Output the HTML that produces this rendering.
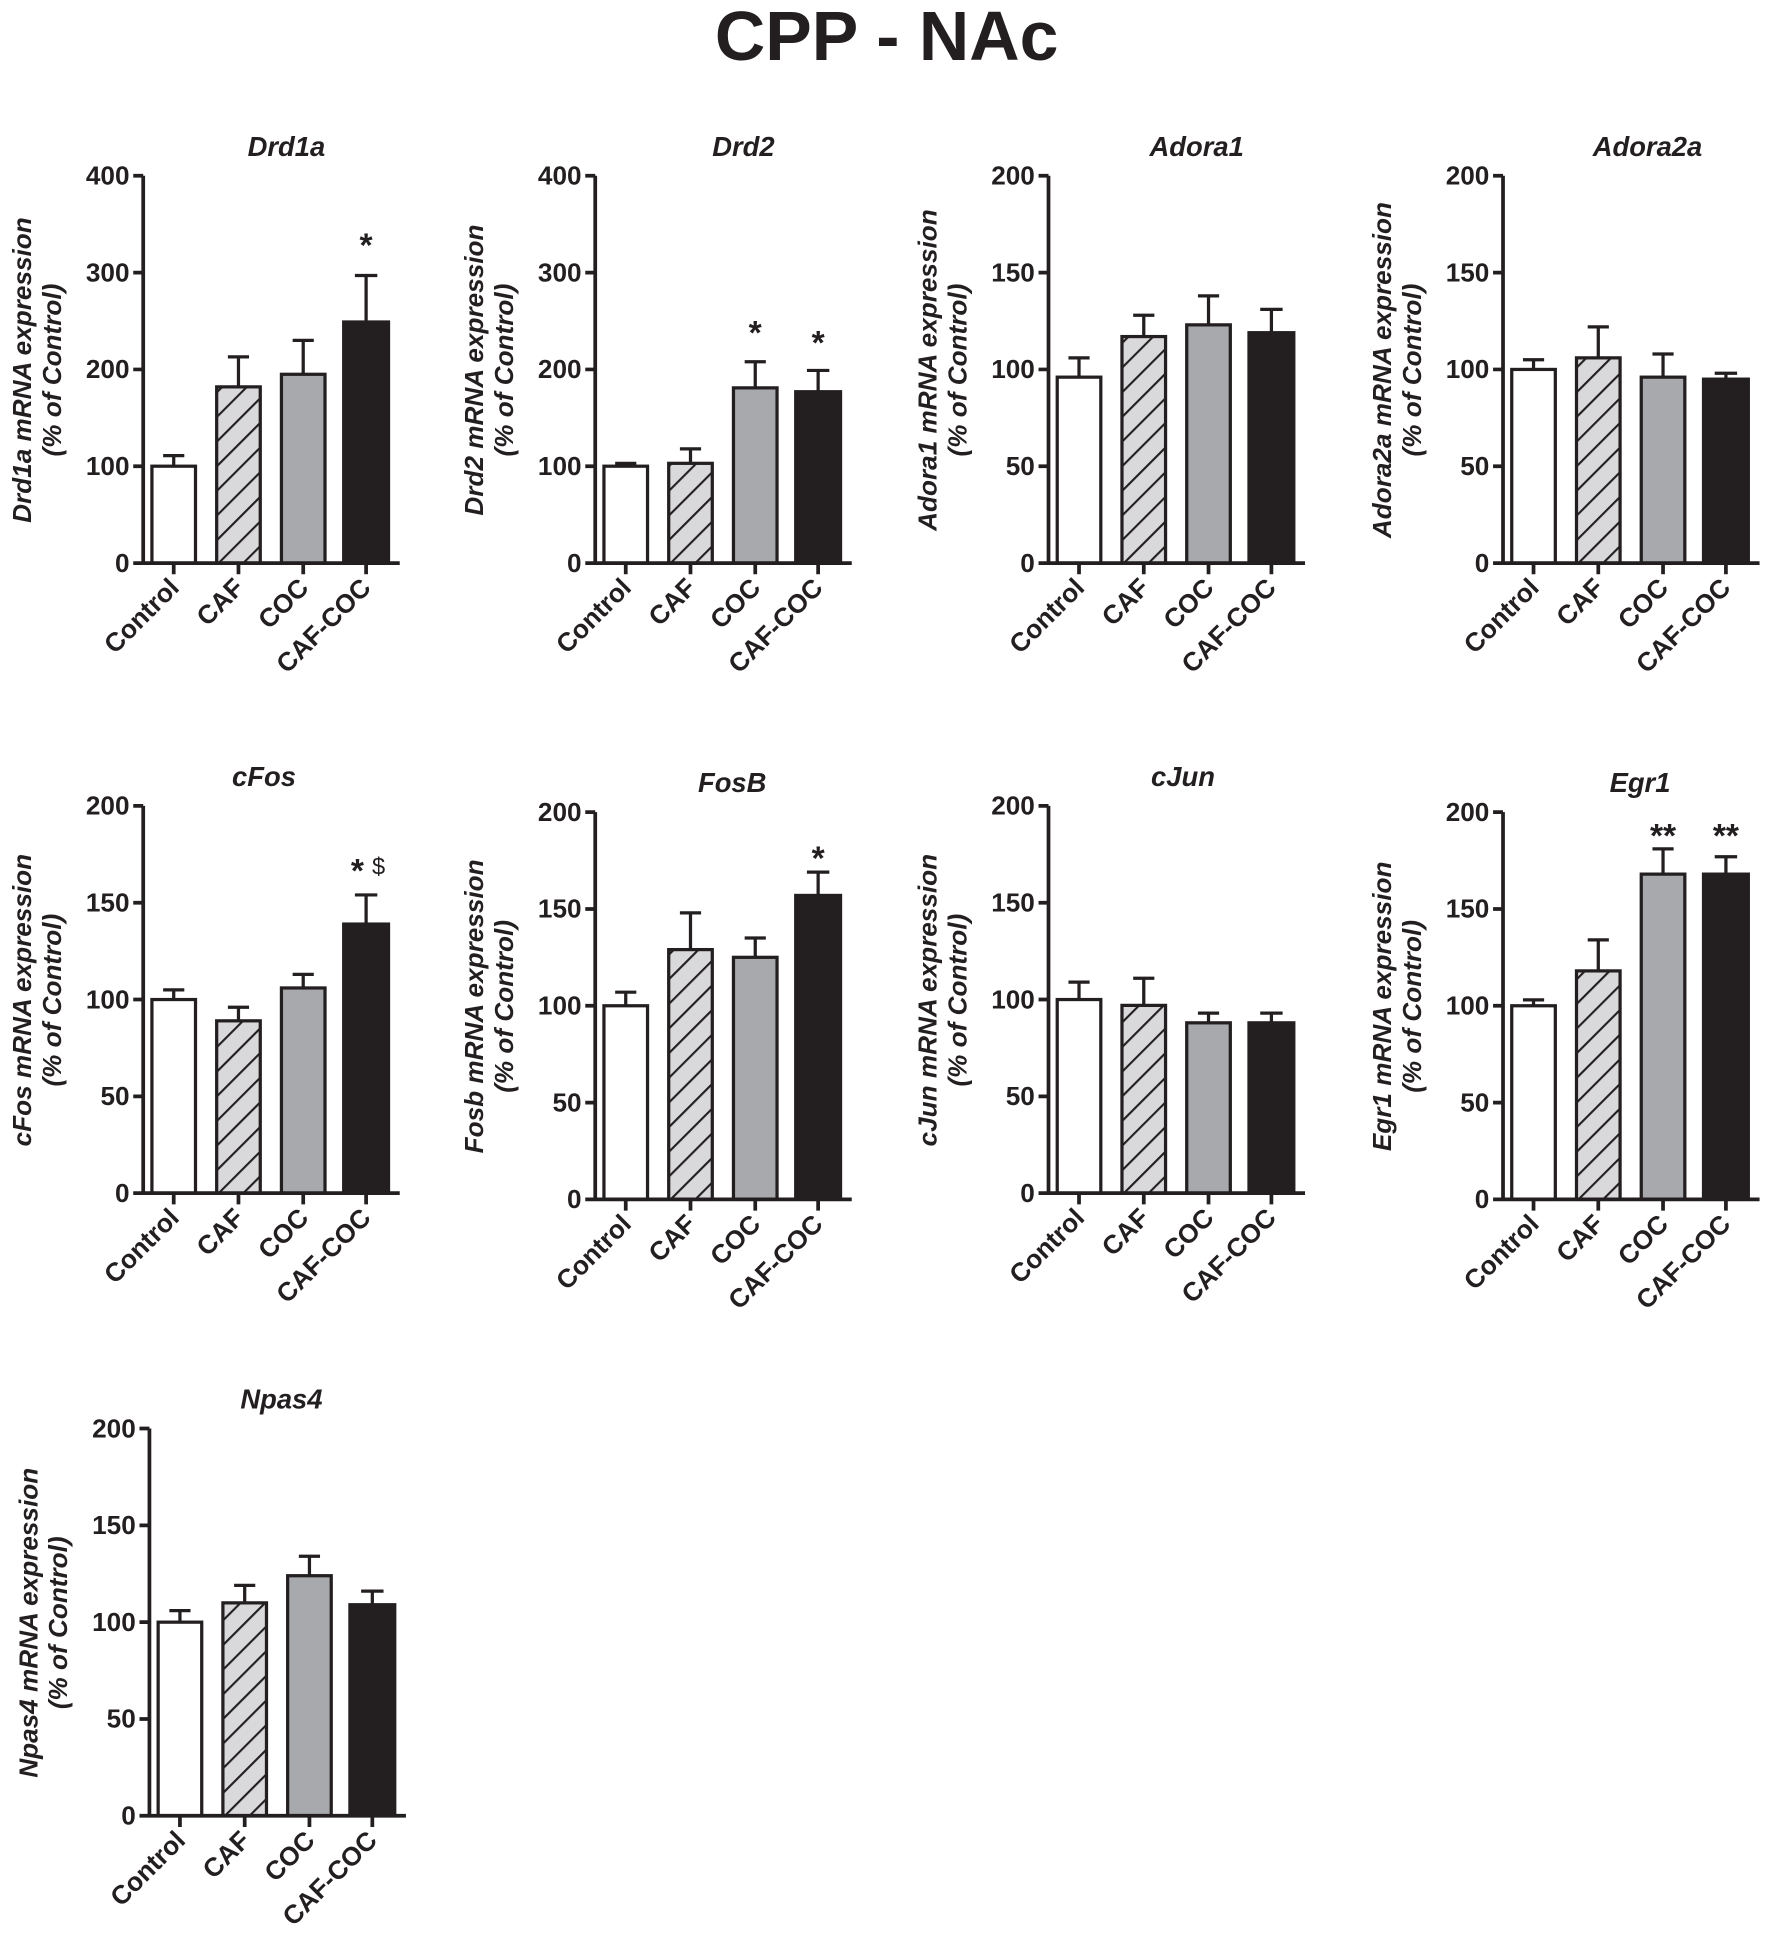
<!DOCTYPE html>
<html><head><meta charset="utf-8"><style>
html,body{margin:0;padding:0;background:#fff}
svg{display:block}
text{font-family:"Liberation Sans",Arial,sans-serif;font-weight:bold;fill:#231f20}
.t{font-size:21px}
.ti{font-size:22px;font-style:italic}
.yl{font-size:21px;font-style:italic}
.xl{font-size:21px}
.ax{stroke:#231f20;stroke-width:3;fill:none}
.b{stroke:#231f20;stroke-width:2.6}
.e{stroke:#231f20;stroke-width:2.6;fill:none}
.st{font-size:27px}
</style></head><body>
<svg width="1772" height="1953" viewBox="0 0 1423 1568" xmlns="http://www.w3.org/2000/svg">
<defs>
<pattern id="h" patternUnits="userSpaceOnUse" width="14" height="14" patternTransform="rotate(45)">
<rect width="14" height="14" fill="#d9d9db"/><line x1="0" y1="0" x2="0" y2="14" stroke="#231f20" stroke-width="3.4"/>
</pattern>
<g id="xaxis">
<path class="ax" d="M0,0V-311M-8,0H206M24.5,0v9M76.5,0v9M128.5,0v9M179,0v9"/>
<text class="xl" text-anchor="end" transform="translate(30,21) rotate(-45)">Control</text>
<text class="xl" text-anchor="end" transform="translate(82,21) rotate(-45)">CAF</text>
<text class="xl" text-anchor="end" transform="translate(134,21) rotate(-45)">COC</text>
<text class="xl" text-anchor="end" transform="translate(184,21) rotate(-45)">CAF-COC</text>
</g>
<g id="y400">
<path class="ax" d="M-8,-77.75H0M-8,-155.5H0M-8,-233.25H0M-8,-311H0"/>
<text class="t" text-anchor="end" x="-11" y="7">0</text>
<text class="t" text-anchor="end" x="-11" y="-70.75">100</text>
<text class="t" text-anchor="end" x="-11" y="-148.5">200</text>
<text class="t" text-anchor="end" x="-11" y="-226.25">300</text>
<text class="t" text-anchor="end" x="-11" y="-304">400</text>
</g>
<g id="y200">
<path class="ax" d="M-8,-77.75H0M-8,-155.5H0M-8,-233.25H0M-8,-311H0"/>
<text class="t" text-anchor="end" x="-11" y="7">0</text>
<text class="t" text-anchor="end" x="-11" y="-70.75">50</text>
<text class="t" text-anchor="end" x="-11" y="-148.5">100</text>
<text class="t" text-anchor="end" x="-11" y="-226.25">150</text>
<text class="t" text-anchor="end" x="-11" y="-304">200</text>
</g>
</defs>

<text x="712" y="48" text-anchor="middle" style="font-size:56px">CPP - NAc</text>

<!-- Drd1a -->
<g transform="translate(115,452)">
<text class="ti" x="115" y="-327" text-anchor="middle">Drd1a</text>
<text class="yl" text-anchor="middle" transform="translate(-90,-155) rotate(-90)">Drd1a mRNA expression</text>
<text class="yl" text-anchor="middle" transform="translate(-66,-155) rotate(-90)">(% of Control)</text>
<path class="e" d="M24.5,-77.8V-86.3M16,-86.3H33M76.5,-141.5V-165.6M68,-165.6H85M128.5,-151.6V-178.8M120,-178.8H137M179,-193.6V-230.9M170,-230.9H188"/>
<rect class="b" x="7" y="-77.8" width="35" height="77.8" fill="#fff"/>
<rect class="b" x="59" y="-141.5" width="35" height="141.5" fill="url(#h)"/>
<rect class="b" x="111" y="-151.6" width="35" height="151.6" fill="#a7a9ac"/>
<rect class="b" x="161" y="-193.6" width="36" height="193.6" fill="#231f20"/>
<text class="st" x="179" y="-246" text-anchor="middle">*</text>
<use href="#y400"/><use href="#xaxis"/>
</g>

<!-- Drd2 -->
<g transform="translate(478,452)">
<text class="ti" x="119" y="-327" text-anchor="middle">Drd2</text>
<text class="yl" text-anchor="middle" transform="translate(-90,-155) rotate(-90)">Drd2 mRNA expression</text>
<text class="yl" text-anchor="middle" transform="translate(-66,-155) rotate(-90)">(% of Control)</text>
<path class="e" d="M24.5,-77.8V-80.1M16,-80.1H33M76.5,-80.1V-91.7M68,-91.7H85M128.5,-140.7V-161.7M120,-161.7H137M179,-137.6V-154.7M170,-154.7H188"/>
<rect class="b" x="7" y="-77.8" width="35" height="77.8" fill="#fff"/>
<rect class="b" x="59" y="-80.1" width="35" height="80.1" fill="url(#h)"/>
<rect class="b" x="111" y="-140.7" width="35" height="140.7" fill="#a7a9ac"/>
<rect class="b" x="161" y="-137.6" width="36" height="137.6" fill="#231f20"/>
<text class="st" x="128.5" y="-176" text-anchor="middle">*</text>
<text class="st" x="179" y="-168" text-anchor="middle">*</text>
<use href="#y400"/><use href="#xaxis"/>
</g>

<!-- Adora1 -->
<g transform="translate(842,452)">
<text class="ti" x="119" y="-327" text-anchor="middle">Adora1</text>
<text class="yl" text-anchor="middle" transform="translate(-90,-155) rotate(-90)">Adora1 mRNA expression</text>
<text class="yl" text-anchor="middle" transform="translate(-66,-155) rotate(-90)">(% of Control)</text>
<path class="e" d="M24.5,-149.3V-164.8M16,-164.8H33M76.5,-181.9V-199M68,-199H85M128.5,-191.3V-214.6M120,-214.6H137M179,-185V-203.7M170,-203.7H188"/>
<rect class="b" x="7" y="-149.3" width="35" height="149.3" fill="#fff"/>
<rect class="b" x="59" y="-181.9" width="35" height="181.9" fill="url(#h)"/>
<rect class="b" x="111" y="-191.3" width="35" height="191.3" fill="#a7a9ac"/>
<rect class="b" x="161" y="-185" width="36" height="185" fill="#231f20"/>
<use href="#y200"/><use href="#xaxis"/>
</g>

<!-- Adora2a -->
<g transform="translate(1207,452)">
<text class="ti" x="116" y="-327" text-anchor="middle">Adora2a</text>
<text class="yl" text-anchor="middle" transform="translate(-90,-155) rotate(-90)">Adora2a mRNA expression</text>
<text class="yl" text-anchor="middle" transform="translate(-66,-155) rotate(-90)">(% of Control)</text>
<path class="e" d="M24.5,-155.5V-163.3M16,-163.3H33M76.5,-164.8V-189.7M68,-189.7H85M128.5,-149.3V-167.9M120,-167.9H137M179,-147.7V-152.4M170,-152.4H188"/>
<rect class="b" x="7" y="-155.5" width="35" height="155.5" fill="#fff"/>
<rect class="b" x="59" y="-164.8" width="35" height="164.8" fill="url(#h)"/>
<rect class="b" x="111" y="-149.3" width="35" height="149.3" fill="#a7a9ac"/>
<rect class="b" x="161" y="-147.7" width="36" height="147.7" fill="#231f20"/>
<use href="#y200"/><use href="#xaxis"/>
</g>

<!-- cFos -->
<g transform="translate(115,958)">
<text class="ti" x="97" y="-327" text-anchor="middle">cFos</text>
<text class="yl" text-anchor="middle" transform="translate(-90,-155) rotate(-90)">cFos mRNA expression</text>
<text class="yl" text-anchor="middle" transform="translate(-66,-155) rotate(-90)">(% of Control)</text>
<path class="e" d="M24.5,-155.5V-163.3M16,-163.3H33M76.5,-138.4V-149.3M68,-149.3H85M128.5,-164.8V-175.7M120,-175.7H137M179,-216.1V-239.5M170,-239.5H188"/>
<rect class="b" x="7" y="-155.5" width="35" height="155.5" fill="#fff"/>
<rect class="b" x="59" y="-138.4" width="35" height="138.4" fill="url(#h)"/>
<rect class="b" x="111" y="-164.8" width="35" height="164.8" fill="#a7a9ac"/>
<rect class="b" x="161" y="-216.1" width="36" height="216.1" fill="#231f20"/>
<text class="st" x="172" y="-250" text-anchor="middle">*</text>
<text x="189" y="-256" text-anchor="middle" style="font-size:19px;font-weight:normal">$</text>
<use href="#y200"/><use href="#xaxis"/>
</g>

<!-- FosB -->
<g transform="translate(478,963)">
<text class="ti" x="110" y="-327" text-anchor="middle">FosB</text>
<text class="yl" text-anchor="middle" transform="translate(-90,-155) rotate(-90)">Fosb mRNA expression</text>
<text class="yl" text-anchor="middle" transform="translate(-66,-155) rotate(-90)">(% of Control)</text>
<path class="e" d="M24.5,-155.5V-166.4M16,-166.4H33M76.5,-200.6V-230.1M68,-230.1H85M128.5,-194.4V-209.9M120,-209.9H137M179,-244.1V-262.8M170,-262.8H188"/>
<rect class="b" x="7" y="-155.5" width="35" height="155.5" fill="#fff"/>
<rect class="b" x="59" y="-200.6" width="35" height="200.6" fill="url(#h)"/>
<rect class="b" x="111" y="-194.4" width="35" height="194.4" fill="#a7a9ac"/>
<rect class="b" x="161" y="-244.1" width="36" height="244.1" fill="#231f20"/>
<text class="st" x="179" y="-265" text-anchor="middle">*</text>
<use href="#y200"/><use href="#xaxis"/>
</g>

<!-- cJun -->
<g transform="translate(842,958)">
<text class="ti" x="108" y="-327" text-anchor="middle">cJun</text>
<text class="yl" text-anchor="middle" transform="translate(-90,-155) rotate(-90)">cJun mRNA expression</text>
<text class="yl" text-anchor="middle" transform="translate(-66,-155) rotate(-90)">(% of Control)</text>
<path class="e" d="M24.5,-155.5V-169.5M16,-169.5H33M76.5,-150.8V-172.6M68,-172.6H85M128.5,-136.8V-144.6M120,-144.6H137M179,-136.8V-144.6M170,-144.6H188"/>
<rect class="b" x="7" y="-155.5" width="35" height="155.5" fill="#fff"/>
<rect class="b" x="59" y="-150.8" width="35" height="150.8" fill="url(#h)"/>
<rect class="b" x="111" y="-136.8" width="35" height="136.8" fill="#a7a9ac"/>
<rect class="b" x="161" y="-136.8" width="36" height="136.8" fill="#231f20"/>
<use href="#y200"/><use href="#xaxis"/>
</g>

<!-- Egr1 -->
<g transform="translate(1207,963)">
<text class="ti" x="110" y="-327" text-anchor="middle">Egr1</text>
<text class="yl" text-anchor="middle" transform="translate(-90,-155) rotate(-90)">Egr1 mRNA expression</text>
<text class="yl" text-anchor="middle" transform="translate(-66,-155) rotate(-90)">(% of Control)</text>
<path class="e" d="M24.5,-155.5V-160.2M16,-160.2H33M76.5,-183.5V-208.4M68,-208.4H85M128.5,-261.2V-281.5M120,-281.5H137M179,-261.2V-275.2M170,-275.2H188"/>
<rect class="b" x="7" y="-155.5" width="35" height="155.5" fill="#fff"/>
<rect class="b" x="59" y="-183.5" width="35" height="183.5" fill="url(#h)"/>
<rect class="b" x="111" y="-261.2" width="35" height="261.2" fill="#a7a9ac"/>
<rect class="b" x="161" y="-261.2" width="36" height="261.2" fill="#231f20"/>
<text class="st" x="128.5" y="-283" text-anchor="middle">**</text>
<text class="st" x="179" y="-283" text-anchor="middle">**</text>
<use href="#y200"/><use href="#xaxis"/>
</g>

<!-- Npas4 -->
<g transform="translate(120,1458)">
<text class="ti" x="106" y="-327" text-anchor="middle">Npas4</text>
<text class="yl" text-anchor="middle" transform="translate(-90,-155) rotate(-90)">Npas4 mRNA expression</text>
<text class="yl" text-anchor="middle" transform="translate(-66,-155) rotate(-90)">(% of Control)</text>
<path class="e" d="M24.5,-155.5V-164.8M16,-164.8H33M76.5,-171V-185M68,-185H85M128.5,-192.8V-208.4M120,-208.4H137M179,-169.5V-180.4M170,-180.4H188"/>
<rect class="b" x="7" y="-155.5" width="35" height="155.5" fill="#fff"/>
<rect class="b" x="59" y="-171" width="35" height="171" fill="url(#h)"/>
<rect class="b" x="111" y="-192.8" width="35" height="192.8" fill="#a7a9ac"/>
<rect class="b" x="161" y="-169.5" width="36" height="169.5" fill="#231f20"/>
<use href="#y200"/><use href="#xaxis"/>
</g>
</svg>
</body></html>
